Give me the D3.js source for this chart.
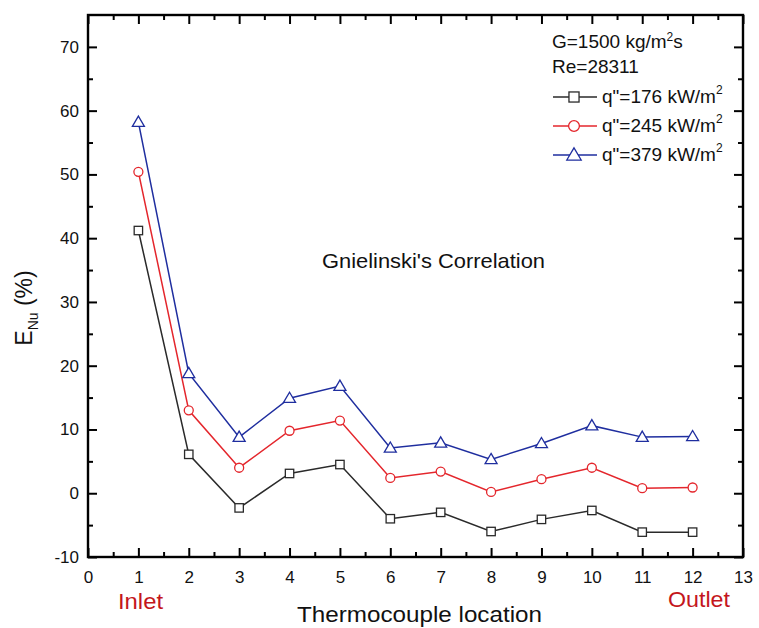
<!DOCTYPE html>
<html><head><meta charset="utf-8">
<script src="https://cdn.jsdelivr.net/npm/d3@7"></script>
<style>
body{margin:0;background:#fff;}
text{font-family:"Liberation Sans",Arial,sans-serif;}
</style></head>
<body><svg id="c" width="759" height="628"></svg>
<script>
const locations = [1,2,3,4,5,6,7,8,9,10,11,12];
const q176 = [41.2, 6.1, -2.3, 3.1, 4.5, -4.0, -3.0, -6.0, -4.1, -2.7, -6.1, -6.1];
const q245 = [50.4, 13.0, 4.0, 9.8, 11.4, 2.4, 3.4, 0.2, 2.2, 4.0, 0.8, 0.9];
const q379 = [58.2, 18.8, 8.8, 14.9, 16.8, 7.1, 7.9, 5.3, 7.8, 10.6, 8.8, 8.9];
const seriesNames = ['q"=176 kW/m', 'q"=245 kW/m', 'q"=379 kW/m'];
const xTicks = [0,1,2,3,4,5,6,7,8,9,10,11,12,13];
const yTicks = [-10,0,10,20,30,40,50,60,70];

const svg = d3.select('#c');
const L=88, R=743, T=15, B=557;
const x = d3.scaleLinear().domain([0,13]).range([L,R]);
const y = d3.scaleLinear().domain([-10,75]).range([B,T]);

const series = [
  {vals:q176, color:'#2a2a2a', shape:'square', name:seriesNames[0]},
  {vals:q245, color:'#e4262c', shape:'circle', name:seriesNames[1]},
  {vals:q379, color:'#1f2e9f', shape:'triangle', name:seriesNames[2]}
];

const xMinor = d3.range(0.5,13,1);
const yMinor = d3.range(-5,75,10);
function drawAxis(gen, tr, labels){
  const g = svg.append('g').attr('transform',tr);
  g.call(gen);
  g.select('.domain').remove();
  g.selectAll('.tick line').attr('stroke','#000').attr('stroke-width',2);
  g.selectAll('.tick text').attr('font-size',17).attr('fill','#111');
  if(!labels) g.selectAll('.tick text').remove();
  return g;
}
const fmt = d => String(d);
drawAxis(d3.axisBottom(x).tickValues(xTicks).tickSizeInner(-9).tickPadding(14).tickFormat(fmt), `translate(0,${B})`, true);
drawAxis(d3.axisBottom(x).tickValues(xMinor).tickSizeInner(-5), `translate(0,${B})`, false);
drawAxis(d3.axisTop(x).tickValues(xTicks).tickSizeInner(-9), `translate(0,${T})`, false);
drawAxis(d3.axisTop(x).tickValues(xMinor).tickSizeInner(-5), `translate(0,${T})`, false);
drawAxis(d3.axisLeft(y).tickValues(yTicks).tickSizeInner(-9).tickPadding(9).tickFormat(fmt), `translate(${L},0)`, true);
drawAxis(d3.axisLeft(y).tickValues(yMinor).tickSizeInner(-5), `translate(${L},0)`, false);
drawAxis(d3.axisRight(y).tickValues(yTicks).tickSizeInner(-9), `translate(${R},0)`, false);
drawAxis(d3.axisRight(y).tickValues(yMinor).tickSizeInner(-5), `translate(${R},0)`, false);

svg.append('rect').attr('x',L).attr('y',T).attr('width',R-L).attr('height',B-T)
  .attr('fill','none').attr('stroke','#000').attr('stroke-width',2.4);

const line = d3.line().x((d,i)=>x(locations[i])).y(d=>y(d));
function marker(g, cx, cy, s, k){
  let el;
  if(s.shape==='square') { const h=4.2*k; el=g.append('rect').attr('x',cx-h).attr('y',cy-h).attr('width',2*h).attr('height',2*h); }
  else if(s.shape==='circle') el=g.append('circle').attr('cx',cx).attr('cy',cy).attr('r',4.5*k);
  else { const w=6*k, h1=6*k, h2=4.2*k; el=g.append('path').attr('d',`M${cx},${cy-h1}L${cx+w},${cy+h2}L${cx-w},${cy+h2}Z`); }
  el.attr('fill','#fff').attr('stroke',s.color).attr('stroke-width',1.3);
}
series.forEach(s=>{
  svg.append('path').datum(s.vals).attr('d',line).attr('fill','none').attr('stroke',s.color).attr('stroke-width',1.5);
  const g = svg.append('g');
  s.vals.forEach((v,i)=>marker(g, x(locations[i]), y(v), s, 1));
});

// legend
const lg = svg.append('g');
lg.append('text').attr('x',552).attr('y',48).attr('font-size',19).attr('fill','#111')
  .html('G=1500 kg/m<tspan dy="-7" font-size="12">2</tspan><tspan dy="7">s</tspan>');
lg.append('text').attr('x',552).attr('y',73).attr('font-size',19).attr('fill','#111').text('Re=28311');
series.forEach((s,i)=>{
  const yy = 97 + i*29;
  lg.append('line').attr('x1',553).attr('x2',597).attr('y1',yy).attr('y2',yy).attr('stroke',s.color).attr('stroke-width',1.5);
  marker(lg, 574, yy, s, 1.2);
  lg.append('text').attr('x',602).attr('y',yy+6).attr('font-size',19).attr('fill','#111')
    .html(s.name+'<tspan dy="-9" font-size="12">2</tspan>');
});

svg.append('text').attr('x',322).attr('y',268).attr('font-size',21).attr('fill','#111')
  .attr('textLength',223).attr('lengthAdjust','spacingAndGlyphs').text("Gnielinski's Correlation");

svg.append('text').attr('x',297).attr('y',622).attr('font-size',21.5).attr('fill','#111')
  .attr('textLength',245).attr('lengthAdjust','spacingAndGlyphs').text('Thermocouple location');
svg.append('text').attr('x',118).attr('y',609).attr('font-size',22).attr('fill','#c4161c')
  .attr('textLength',45).attr('lengthAdjust','spacingAndGlyphs').text('Inlet');
svg.append('text').attr('x',668).attr('y',607).attr('font-size',22).attr('fill','#c4161c')
  .attr('textLength',62).attr('lengthAdjust','spacingAndGlyphs').text('Outlet');
svg.append('text').attr('transform','translate(32,308) rotate(-90)').attr('text-anchor','middle').attr('font-size',23).attr('fill','#111')
  .html('E<tspan font-size="14" dy="6">Nu</tspan><tspan dy="-6"> (%)</tspan>');
</script></body></html>
